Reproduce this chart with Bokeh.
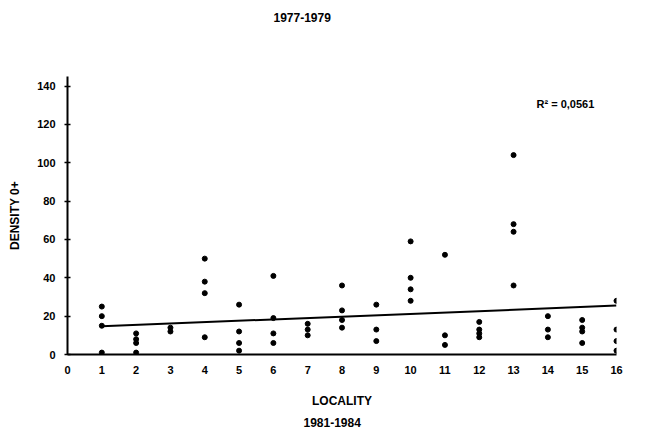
import math
from bokeh.plotting import figure
from bokeh.models import Label, Range1d, FixedTicker, Title
from bokeh.embed import file_html
from bokeh.resources import INLINE

# ---- data ----
locality = [1, 1, 1, 1,
            2, 2, 2, 2,
            3, 3,
            4, 4, 4, 4,
            5, 5, 5, 5,
            6, 6, 6, 6,
            7, 7, 7,
            8, 8, 8, 8,
            9, 9, 9,
            10, 10, 10, 10,
            11, 11, 11,
            12, 12, 12, 12,
            13, 13, 13, 13,
            14, 14, 14,
            15, 15, 15, 15,
            16, 16, 16, 16]
density = [25, 20, 15, 1,
           11, 8, 6, 1,
           14, 12,
           50, 38, 32, 9,
           26, 12, 6, 2,
           41, 19, 11, 6,
           16, 13, 10,
           36, 23, 18, 14,
           26, 13, 7,
           59, 40, 34, 28,
           52, 10, 5,
           17, 13, 11, 9,
           104, 68, 64, 36,
           20, 13, 9,
           18, 14, 12, 6,
           28, 13, 7, 2]
trend_x = [1, 16]
trend_y = [14.7, 25.5]
x_ticks = list(range(0, 17))
y_ticks = [0, 20, 40, 60, 80, 100, 120, 140]
title_top = "1977-1979"
title_bottom = "1981-1984"
x_title = "LOCALITY"
y_title = "DENSITY 0+"
r2_text = "R\u00b2 = 0,0561"

FONT = "Liberation Sans"

p = figure(width=654, height=435, output_backend="svg", toolbar_location=None,
           x_range=Range1d(0, 16), y_range=Range1d(0, 145),
           min_border_left=67, min_border_right=38,
           min_border_top=76, min_border_bottom=81)
p.xgrid.visible = False
p.ygrid.visible = False
p.outline_line_color = None
p.background_fill_color = "white"
p.border_fill_color = "white"

# top title (outermost) with an invisible spacer between it and the frame
p.title.text = title_top
p.title.align = "left"
p.title.offset = 206
p.title.vertical_align = "top"
p.title.standoff = 14
p.title.text_font = FONT
p.title.text_font_style = "bold"
p.title.text_font_size = "12px"
p.title.text_color = "black"
p.add_layout(Title(text=" ", text_font_size="1px", standoff=43), "above")

# axes
p.xaxis.ticker = FixedTicker(ticks=x_ticks)
p.xaxis.major_tick_in = 0
p.xaxis.major_tick_out = 0
p.xaxis.minor_tick_line_color = None
p.xaxis.axis_line_width = 2
p.xaxis.axis_line_color = "black"
p.xaxis.major_label_standoff = 11
p.xaxis.axis_label = x_title
p.xaxis.axis_label_standoff = 17

p.yaxis.ticker = FixedTicker(ticks=y_ticks)
p.yaxis.major_tick_in = 3
p.yaxis.major_tick_out = 3
p.yaxis.major_tick_line_width = 1.5
p.yaxis.major_tick_line_color = "black"
p.yaxis.minor_tick_line_color = None
p.yaxis.axis_line_width = 2
p.yaxis.axis_line_color = "black"
p.yaxis.major_label_standoff = 9
p.yaxis.axis_label = y_title
p.yaxis.axis_label_standoff = 12

for ax in (p.xaxis, p.yaxis):
    ax.major_label_text_font = FONT
    ax.major_label_text_font_style = "bold"
    ax.major_label_text_font_size = "11px"
    ax.major_label_text_color = "black"
    ax.axis_label_text_font = FONT
    ax.axis_label_text_font_style = "bold"
    ax.axis_label_text_font_size = "12px"
    ax.axis_label_text_color = "black"

# bottom title
p.add_layout(Title(text=title_bottom, align="left", offset=236, standoff=10,
                   text_font=FONT, text_font_style="bold", text_font_size="12px",
                   text_color="black"), "below")

# regression line and points
p.line(trend_x, trend_y, line_color="black", line_width=2)
p.scatter(locality, density, size=5, fill_color="black", line_color="black")

p.add_layout(Label(x=469, y=251, x_units="screen", y_units="screen", text=r2_text,
                   text_font=FONT, text_font_style="bold", text_font_size="11px",
                   text_color="black", text_align="left", text_baseline="middle"))

open("out.html", "w").write(file_html(p, INLINE))
